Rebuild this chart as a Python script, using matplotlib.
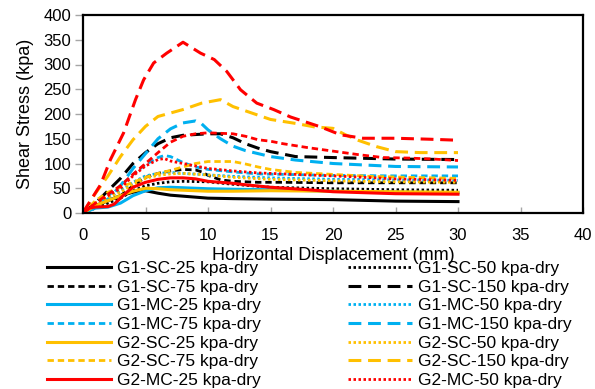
import matplotlib
matplotlib.use("Agg")
import matplotlib.pyplot as plt

plt.rcParams['font.family'] = ['Liberation Sans', 'DejaVu Sans']

# ---- data (x = horizontal displacement mm, y = shear stress kPa) ----
g1sc25_x = [0, 1, 2, 3, 4, 5, 6, 7, 8, 10, 12, 15, 20, 25, 30]
g1sc25_y = [0, 15, 25, 35, 42, 45, 40, 36, 34, 30, 29, 28, 27, 24, 23]

g1sc50_x = [0, 1, 2, 3, 4, 5, 6, 7, 8, 10, 12, 15, 20, 25, 30]
g1sc50_y = [0, 10, 20, 30, 45, 55, 60, 63, 64, 63, 58, 52, 49, 47, 46]

g1sc75_x = [0, 1, 2, 3, 4, 5, 6, 7, 8, 9, 9.5, 10, 11, 12, 14, 16, 20, 25, 30]
g1sc75_y = [0, 15, 25, 35, 55, 72, 80, 85, 88, 87, 83, 76, 67, 64, 62, 62, 61, 61, 61]

g1sc150_x = [0, 1, 2, 3, 4, 5, 6, 7, 8, 10, 11, 12, 13, 14, 15, 17, 20, 25, 30]
g1sc150_y = [0, 20, 45, 70, 100, 122, 140, 152, 157, 160, 160, 152, 140, 131, 124, 114, 112, 109, 108]

g1mc25_x = [0, 1, 2, 3, 4, 5, 6, 7, 8, 10, 12, 15, 20, 25, 30]
g1mc25_y = [0, 10, 12, 20, 35, 45, 51, 52, 51, 49, 48, 47, 44, 42, 41]

g1mc50_x = [0, 1, 2, 3, 4, 5, 6, 7, 8, 10, 12, 15, 20, 25, 30]
g1mc50_y = [0, 15, 30, 45, 62, 75, 80, 82, 80, 77, 74, 71, 68, 67, 66]

g1mc75_x = [0, 1, 2, 3, 4, 5, 6, 6.5, 7, 7.5, 8, 9, 10, 12, 14, 16, 20, 25, 30]
g1mc75_y = [0, 20, 35, 55, 78, 98, 112, 116, 114, 108, 102, 93, 88, 83, 79, 78, 76, 75, 75]

g1mc150_x = [0, 1, 2, 3, 4, 5, 6, 7, 8, 9, 9.5, 10, 11, 12, 13, 14, 15, 17, 20, 25, 30]
g1mc150_y = [0, 15, 28, 55, 90, 120, 150, 170, 182, 186, 180, 168, 150, 135, 126, 120, 114, 107, 100, 94, 93]

g2sc25_x = [0, 1, 2, 3, 4, 5, 6, 7, 8, 10, 12, 15, 20, 25, 30]
g2sc25_y = [0, 15, 25, 35, 44, 50, 49, 47, 46, 44, 44, 45, 44, 43, 42]

g2sc50_x = [0, 1, 2, 3, 4, 5, 6, 7, 8, 10, 12, 15, 20, 25, 30]
g2sc50_y = [0, 20, 32, 42, 58, 70, 76, 79, 80, 77, 72, 68, 65, 63, 62]

g2sc75_x = [0, 1, 2, 3, 4, 5, 6, 7, 8, 9, 10, 12, 13, 14, 15, 17, 20, 23, 26, 30]
g2sc75_y = [0, 25, 42, 52, 62, 72, 80, 86, 93, 100, 104, 104, 99, 93, 88, 82, 78, 74, 72, 70]

g2sc150_x = [0, 1, 2, 3, 4, 5, 6, 8, 9.5, 11, 12, 13.5, 15, 17, 18.5, 20, 21, 22, 23.5, 25, 27, 30]
g2sc150_y = [0, 40, 75, 114, 148, 175, 195, 209, 222, 229, 215, 202, 189, 181, 174, 171, 158, 147, 134, 124, 122, 122]

g2mc25_x = [0, 0.5, 1, 2, 2.5, 3, 3.5, 4, 5, 6, 7, 8, 9, 10, 11, 12, 13, 15, 18, 20, 25, 30]
g2mc25_y = [0, 10, 12, 13, 18, 30, 42, 52, 62, 68, 71, 71, 69, 64, 62, 60, 57, 52, 47, 43, 39, 38]

g2mc50_x = [0, 1, 2, 3, 4, 5, 6, 6.5, 7, 8, 9, 10, 12, 14, 16, 20, 25, 30]
g2mc50_y = [0, 20, 35, 50, 75, 95, 108, 110, 105, 100, 95, 90, 85, 81, 79, 75, 69, 66]

g2mc75_x = [0, 1, 2, 3, 4, 5, 6, 7, 8, 9, 10, 11, 12, 13, 14, 15, 16, 18, 20, 22, 24, 26, 28, 30]
g2mc75_y = [0, 20, 38, 55, 78, 100, 122, 143, 155, 160, 162, 161, 160, 155, 148, 145, 140, 132, 125, 118, 112, 111, 109, 106]

g2mc150_x = [0, 0.3, 1.4, 2.2, 3.25, 4.2, 4.85, 5.65, 6.7, 8, 9.4, 10.5, 11.5, 12.6, 13.9, 15.25, 16.6, 19, 20.6, 22.4, 25, 27.8, 30]
g2mc150_y = [0, 13, 57, 108, 162, 229, 269, 303, 323, 345, 323, 310, 286, 249, 222, 209, 194, 174, 158, 151, 151, 149, 147]

# legend rows visible in the reference (the last row, G2-MC-75 / G2-MC-150, lies below the image edge)
labels_left = ["G1-SC-25 kpa-dry", "G1-SC-75 kpa-dry", "G1-MC-25 kpa-dry", "G1-MC-75 kpa-dry",
               "G2-SC-25 kpa-dry", "G2-SC-75 kpa-dry", "G2-MC-25 kpa-dry"]
labels_right = ["G1-SC-50 kpa-dry", "G1-SC-150 kpa-dry", "G1-MC-50 kpa-dry", "G1-MC-150 kpa-dry",
                "G2-SC-50 kpa-dry", "G2-SC-150 kpa-dry", "G2-MC-50 kpa-dry"]

BLACK = "#000000"
BLUE = "#00B0F0"
GOLD = "#FFC000"
RED = "#FF0000"

solid = dict(ls="-", lw=2.2)
dotted = dict(ls=(0, (0.9, 0.9)), lw=2.0)
short = dict(ls=(0, (2.3, 1.4)), lw=2.0)
long_ = dict(ls=(0, (4.2, 2.2)), lw=2.2)

series = [
    (g1sc25_x, g1sc25_y, BLACK, solid, "G1-SC-25 kpa-dry"),
    (g1sc50_x, g1sc50_y, BLACK, dotted, "G1-SC-50 kpa-dry"),
    (g1sc75_x, g1sc75_y, BLACK, short, "G1-SC-75 kpa-dry"),
    (g1sc150_x, g1sc150_y, BLACK, long_, "G1-SC-150 kpa-dry"),
    (g1mc25_x, g1mc25_y, BLUE, solid, "G1-MC-25 kpa-dry"),
    (g1mc50_x, g1mc50_y, BLUE, dotted, "G1-MC-50 kpa-dry"),
    (g1mc75_x, g1mc75_y, BLUE, short, "G1-MC-75 kpa-dry"),
    (g1mc150_x, g1mc150_y, BLUE, long_, "G1-MC-150 kpa-dry"),
    (g2sc25_x, g2sc25_y, GOLD, solid, "G2-SC-25 kpa-dry"),
    (g2sc50_x, g2sc50_y, GOLD, dotted, "G2-SC-50 kpa-dry"),
    (g2sc75_x, g2sc75_y, GOLD, short, "G2-SC-75 kpa-dry"),
    (g2sc150_x, g2sc150_y, GOLD, long_, "G2-SC-150 kpa-dry"),
    (g2mc25_x, g2mc25_y, RED, solid, "G2-MC-25 kpa-dry"),
    (g2mc50_x, g2mc50_y, RED, dotted, "G2-MC-50 kpa-dry"),
    (g2mc75_x, g2mc75_y, RED, short, "G2-MC-75 kpa-dry"),
    (g2mc150_x, g2mc150_y, RED, long_, "G2-MC-150 kpa-dry"),
]

fig = plt.figure(figsize=(5.95, 3.89), dpi=100)
ax = fig.add_axes([83/595, 1-213/389, 500/595, 198/389])

handles = {}
for x, y, c, st, lab in series:
    ln, = ax.plot(x, y, color=c, label=lab, **st)
    handles[lab] = ln

ax.set_xlim(0, 40)
ax.set_ylim(0, 400)
ax.set_xticks(range(0, 41, 5))
ax.set_yticks(range(0, 401, 50))
for s in ax.spines.values():
    s.set_linewidth(1.6)
    s.set_color("black")
ax.tick_params(axis="x", direction="in", length=4, width=1, color="#A6A6A6", pad=10.5, labelsize=12)
ax.tick_params(axis="y", direction="out", length=5.5, width=1, color="#A6A6A6", pad=3, labelsize=12)
ax.set_xlabel("Horizontal Displacement (mm)", fontsize=13, labelpad=3)
ax.set_ylabel("Shear Stress (kpa)", fontsize=13, labelpad=7)

order = labels_left + labels_right
fig.legend([handles[l] for l in order], order, ncol=2, loc="upper left",
           bbox_to_anchor=(47/595, 1-261/389), frameon=False, fontsize=12.5,
           handlelength=3.7, handletextpad=0.35, columnspacing=5.0,
           labelspacing=0.2, borderpad=0, borderaxespad=0)

fig.savefig("out.png", dpi=100)
